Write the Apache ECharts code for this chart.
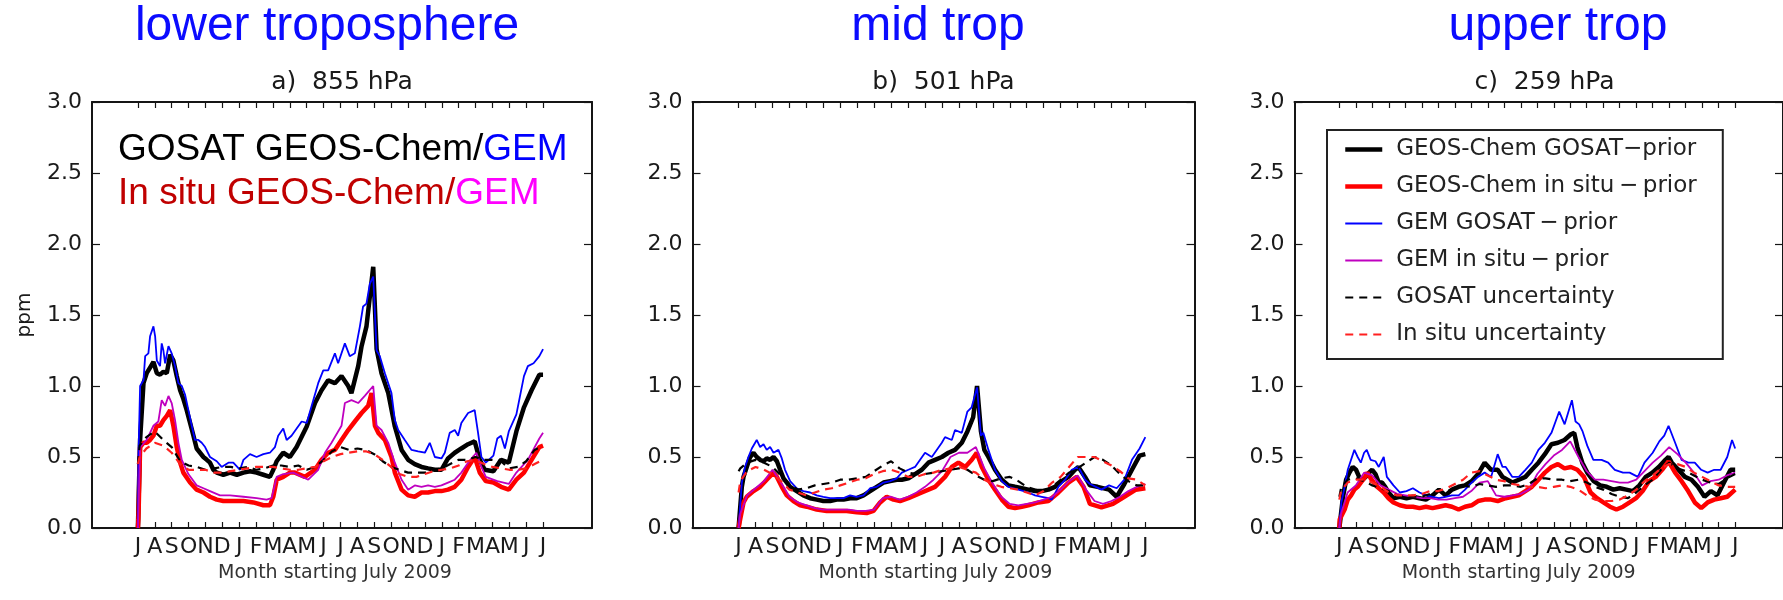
<!DOCTYPE html>
<html>
<head>
<meta charset="utf-8">
<title>GOSAT / in situ CO2 flux differences</title>
<script src="https://cdn.jsdelivr.net/npm/echarts@6/dist/echarts.min.js"></script>
<style>
  html, body { margin: 0; padding: 0; background: #fff; }
  #chart { width: 1783px; height: 600px; }
</style>
</head>
<body>
<div id="chart"></div>
<script>
// months since July 2009, x of the half-month sampled series
var months = [0, 0.1, 0.5, 1, 1.5, 2, 2.5, 3, 3.5, 4, 4.5, 5, 5.5, 6, 6.5, 7, 7.5, 8, 8.5, 9, 9.5, 10,
  10.5, 11, 11.5, 12, 12.5, 13, 13.5, 14, 14.5, 15, 15.5, 16, 16.5, 17, 17.5, 18, 18.5, 19, 19.5, 20,
  20.5, 21, 21.5, 22, 22.5, 23, 23.5, 24];

var monthTicks = [0, 1, 2, 3, 4, 5, 6, 7, 8, 9, 10, 11, 12, 13, 14, 15, 16, 17, 18, 19, 20, 21, 22, 23, 24];
var monthLetters = ['J', 'A', 'S', 'O', 'N', 'D', 'J', 'F', 'M', 'A', 'M', 'J',
  'J', 'A', 'S', 'O', 'N', 'D', 'J', 'F', 'M', 'A', 'M', 'J', 'J'];

var seriesNames = ['GEOS-Chem GOSAT\u2212prior', 'GEOS-Chem in situ\u2009\u2212\u2009prior', 'GEM GOSAT\u2009\u2212\u2009prior',
  'GEM in situ\u2009\u2212\u2009prior', 'GOSAT uncertainty', 'In situ uncertainty'];

// a) 855 hPa  -- solid lines read as [month, ppm], the rest on the half-month grid
var a855GcGosat = [[0, 0], [0.13, 0.62], [0.33, 1.02], [0.52, 1.09], [0.72, 1.13], [0.92, 1.17], [1.12, 1.09], [1.31, 1.08], [1.51, 1.1], [1.71, 1.09], [1.91, 1.22], [2.1, 1.18], [2.3, 1.07], [2.5, 0.97], [2.69, 0.91], [2.89, 0.83], [3.09, 0.74], [3.29, 0.65], [3.48, 0.56], [3.68, 0.53], [3.88, 0.5], [4.08, 0.48], [4.27, 0.46], [4.47, 0.41], [4.67, 0.39], [5.06, 0.375], [5.46, 0.39], [5.86, 0.375], [6.25, 0.39], [6.64, 0.4], [7.03, 0.39], [7.43, 0.375], [7.82, 0.36], [8.02, 0.41], [8.22, 0.47], [8.41, 0.5], [8.61, 0.53], [9.0, 0.5], [9.4, 0.57], [10.0, 0.715], [10.49, 0.88], [10.88, 0.97], [11.27, 1.04], [11.67, 1.02], [12.06, 1.07], [12.46, 1.0], [12.65, 0.95], [13.05, 1.14], [13.25, 1.28], [13.54, 1.42], [13.74, 1.63], [13.94, 1.84], [14.14, 1.26], [14.43, 1.09], [14.83, 0.95], [15.22, 0.715], [15.62, 0.55], [16.01, 0.48], [16.4, 0.45], [16.8, 0.43], [17.19, 0.42], [17.59, 0.41], [17.98, 0.41], [18.37, 0.49], [18.77, 0.53], [19.16, 0.56], [19.56, 0.59], [19.95, 0.61], [20.25, 0.48], [20.54, 0.41], [21.06, 0.4], [21.51, 0.48], [21.97, 0.46], [22.42, 0.68], [22.87, 0.85], [23.32, 0.97], [23.78, 1.08], [24.0, 1.08]];
var a855GcInsitu = [[0, 0], [0.03, 0.06], [0.13, 0.57], [0.33, 0.6], [0.52, 0.6], [0.72, 0.62], [0.92, 0.65], [1.12, 0.72], [1.31, 0.72], [1.51, 0.76], [1.71, 0.79], [1.91, 0.83], [2.1, 0.72], [2.3, 0.57], [2.5, 0.46], [2.69, 0.39], [3.09, 0.32], [3.48, 0.27], [3.88, 0.25], [4.27, 0.22], [4.67, 0.2], [5.06, 0.19], [5.65, 0.19], [6.25, 0.19], [6.84, 0.18], [7.43, 0.16], [7.82, 0.16], [8.02, 0.22], [8.22, 0.34], [8.61, 0.36], [9.0, 0.39], [9.3, 0.39], [9.89, 0.36], [10.49, 0.41], [10.88, 0.48], [11.27, 0.53], [11.67, 0.55], [12.06, 0.62], [12.46, 0.69], [12.85, 0.75], [13.25, 0.81], [13.64, 0.86], [13.84, 0.95], [14.04, 0.72], [14.24, 0.67], [14.63, 0.62], [15.02, 0.5], [15.22, 0.39], [15.62, 0.27], [16.01, 0.23], [16.4, 0.22], [16.8, 0.25], [17.19, 0.25], [17.59, 0.26], [17.98, 0.26], [18.37, 0.27], [18.77, 0.29], [19.16, 0.34], [19.56, 0.43], [19.95, 0.5], [20.25, 0.39], [20.61, 0.33], [21.06, 0.32], [21.51, 0.29], [21.97, 0.27], [22.42, 0.34], [22.87, 0.39], [23.32, 0.48], [23.78, 0.57], [24.0, 0.58]];
var a855GemGosat = [[0, 0], [0.03, 0.5], [0.13, 1.0], [0.33, 1.04], [0.43, 1.21], [0.62, 1.23], [0.72, 1.35], [0.92, 1.42], [1.02, 1.35], [1.12, 1.18], [1.31, 1.14], [1.41, 1.3], [1.51, 1.25], [1.61, 1.16], [1.81, 1.28], [2.0, 1.23], [2.2, 1.14], [2.4, 1.02], [2.6, 1.0], [2.79, 0.94], [2.99, 0.83], [3.19, 0.72], [3.38, 0.62], [3.58, 0.62], [3.78, 0.6], [3.98, 0.57], [4.27, 0.5], [4.67, 0.47], [4.96, 0.43], [5.36, 0.46], [5.65, 0.46], [6.05, 0.41], [6.25, 0.48], [6.64, 0.52], [7.03, 0.5], [7.43, 0.52], [7.82, 0.53], [8.12, 0.57], [8.31, 0.65], [8.61, 0.7], [8.81, 0.62], [9.1, 0.65], [9.7, 0.75], [10.0, 0.74], [10.29, 0.86], [10.68, 1.02], [10.98, 1.11], [11.27, 1.11], [11.67, 1.23], [11.86, 1.16], [12.26, 1.3], [12.55, 1.21], [12.85, 1.23], [13.15, 1.42], [13.34, 1.56], [13.54, 1.58], [13.74, 1.72], [13.94, 1.77], [14.14, 1.25], [14.33, 1.21], [14.63, 1.09], [15.02, 0.95], [15.22, 0.76], [15.42, 0.69], [15.81, 0.62], [16.21, 0.55], [16.6, 0.54], [17.0, 0.53], [17.29, 0.6], [17.59, 0.5], [17.98, 0.49], [18.18, 0.53], [18.47, 0.67], [18.77, 0.69], [18.97, 0.65], [19.16, 0.74], [19.56, 0.81], [19.95, 0.83], [20.15, 0.67], [20.35, 0.5], [20.61, 0.46], [21.06, 0.51], [21.29, 0.63], [21.51, 0.65], [21.74, 0.56], [21.97, 0.68], [22.42, 0.8], [22.87, 1.07], [23.1, 1.14], [23.44, 1.16], [23.78, 1.21], [24.0, 1.26]];
var a855GemInsitu = [[0, 0], [0.13, 0.57], [0.52, 0.62], [0.92, 0.72], [1.21, 0.75], [1.41, 0.9], [1.61, 0.86], [1.81, 0.93], [2.0, 0.88], [2.2, 0.76], [2.4, 0.6], [2.6, 0.48], [2.99, 0.38], [3.48, 0.3], [3.88, 0.28], [4.27, 0.26], [4.86, 0.23], [5.46, 0.23], [6.25, 0.22], [7.03, 0.21], [7.62, 0.2], [7.92, 0.21], [8.22, 0.36], [8.61, 0.38], [9.2, 0.39], [10.09, 0.34], [10.68, 0.41], [11.08, 0.53], [11.47, 0.6], [12.06, 0.72], [12.26, 0.88], [12.65, 0.9], [13.05, 0.88], [13.44, 0.93], [13.94, 1.0], [14.14, 0.72], [14.43, 0.69], [14.83, 0.6], [15.22, 0.46], [15.62, 0.34], [16.01, 0.27], [16.4, 0.3], [16.8, 0.29], [17.19, 0.3], [17.59, 0.29], [17.98, 0.3], [18.37, 0.32], [18.77, 0.34], [19.16, 0.39], [19.56, 0.46], [20.05, 0.53], [20.35, 0.43], [20.61, 0.36], [21.29, 0.33], [21.97, 0.31], [22.42, 0.39], [23.1, 0.48], [23.78, 0.63], [24.0, 0.67]];
var a855GosatUnc = [0.45, 0.58, 0.64, 0.68, 0.62, 0.57, 0.47, 0.44, 0.43, 0.41, 0.42, 0.43, 0.43, 0.42, 0.43, 0.41, 0.42, 0.44, 0.44, 0.43, 0.44, 0.41, 0.43, 0.48, 0.54, 0.57, 0.55, 0.56, 0.55, 0.52, 0.47, 0.43, 0.41, 0.39, 0.39, 0.39, 0.41, 0.42, 0.45, 0.48, 0.48, 0.5, 0.48, 0.48, 0.47, 0.42, 0.43, 0.47, 0.55, 0.58];
var a855InsituUnc = [0.45, 0.5, 0.56, 0.6, 0.58, 0.53, 0.45, 0.41, 0.41, 0.41, 0.39, 0.39, 0.4, 0.41, 0.42, 0.43, 0.43, 0.43, 0.42, 0.41, 0.41, 0.42, 0.43, 0.47, 0.5, 0.52, 0.53, 0.54, 0.54, 0.52, 0.48, 0.43, 0.38, 0.36, 0.36, 0.38, 0.4, 0.41, 0.42, 0.44, 0.47, 0.48, 0.45, 0.43, 0.42, 0.41, 0.41, 0.42, 0.45, 0.48];

// b) 501 hPa
var b501GcGosat = [[0, 0], [0.19, 0.29], [0.29, 0.36], [0.48, 0.43], [0.68, 0.5], [0.88, 0.53], [1.07, 0.5], [1.27, 0.48], [1.47, 0.47], [1.66, 0.49], [1.86, 0.48], [2.06, 0.5], [2.26, 0.47], [2.45, 0.41], [2.65, 0.35], [3.04, 0.29], [3.43, 0.26], [3.82, 0.23], [4.22, 0.21], [4.61, 0.2], [5.0, 0.19], [5.4, 0.19], [5.79, 0.2], [6.19, 0.2], [6.58, 0.21], [6.97, 0.21], [7.37, 0.23], [7.76, 0.26], [8.15, 0.29], [8.55, 0.32], [8.94, 0.33], [9.33, 0.34], [9.63, 0.34], [10.02, 0.35], [10.41, 0.38], [10.81, 0.41], [11.2, 0.46], [11.59, 0.48], [11.99, 0.5], [12.38, 0.53], [12.77, 0.55], [13.17, 0.6], [13.5, 0.68], [13.84, 0.78], [14.07, 1.0], [14.3, 0.68], [14.5, 0.55], [14.74, 0.5], [15.13, 0.41], [15.53, 0.34], [15.92, 0.3], [16.31, 0.29], [16.71, 0.28], [17.1, 0.27], [17.49, 0.26], [17.89, 0.26], [18.28, 0.27], [18.67, 0.29], [19.07, 0.33], [19.46, 0.36], [19.85, 0.41], [20.05, 0.43], [20.44, 0.36], [20.73, 0.3], [21.18, 0.29], [21.86, 0.27], [22.31, 0.22], [22.76, 0.31], [23.21, 0.41], [23.66, 0.51], [24.0, 0.52]];
var b501GcInsitu = [[0, 0], [0.09, 0.06], [0.29, 0.18], [0.48, 0.22], [0.88, 0.26], [1.27, 0.29], [1.66, 0.34], [2.06, 0.39], [2.26, 0.36], [2.55, 0.29], [2.84, 0.23], [3.23, 0.19], [3.63, 0.16], [4.02, 0.15], [4.61, 0.13], [5.2, 0.12], [5.79, 0.12], [6.38, 0.12], [6.97, 0.11], [7.56, 0.105], [7.96, 0.12], [8.35, 0.18], [8.74, 0.22], [9.14, 0.2], [9.53, 0.19], [10.02, 0.21], [10.81, 0.25], [11.59, 0.29], [12.18, 0.36], [12.58, 0.43], [12.97, 0.46], [13.37, 0.43], [13.76, 0.48], [14.05, 0.53], [14.35, 0.43], [14.74, 0.34], [15.13, 0.27], [15.53, 0.2], [15.92, 0.15], [16.31, 0.14], [16.71, 0.15], [17.1, 0.16], [17.69, 0.18], [18.28, 0.19], [18.87, 0.25], [19.46, 0.32], [19.95, 0.36], [20.35, 0.29], [20.73, 0.17], [21.41, 0.145], [22.09, 0.17], [22.76, 0.22], [23.44, 0.27], [24.0, 0.28]];
var b501GemGosat = [[0, 0], [0.19, 0.32], [0.38, 0.43], [0.58, 0.5], [0.78, 0.56], [1.07, 0.62], [1.27, 0.57], [1.47, 0.59], [1.66, 0.55], [1.86, 0.57], [2.06, 0.53], [2.35, 0.55], [2.55, 0.49], [2.74, 0.41], [3.04, 0.33], [3.43, 0.28], [3.82, 0.26], [4.22, 0.25], [4.61, 0.23], [5.0, 0.22], [5.4, 0.21], [5.79, 0.21], [6.19, 0.21], [6.58, 0.23], [6.97, 0.22], [7.37, 0.23], [7.76, 0.28], [8.15, 0.29], [8.55, 0.32], [8.94, 0.33], [9.33, 0.35], [9.63, 0.39], [10.02, 0.41], [10.41, 0.43], [11.0, 0.53], [11.4, 0.5], [11.99, 0.6], [12.18, 0.64], [12.58, 0.62], [12.77, 0.69], [13.17, 0.67], [13.5, 0.82], [13.75, 0.85], [14.07, 0.99], [14.3, 0.65], [14.44, 0.67], [14.74, 0.55], [15.13, 0.41], [15.53, 0.33], [15.92, 0.29], [16.51, 0.27], [17.1, 0.25], [17.49, 0.23], [17.89, 0.22], [18.28, 0.21], [18.48, 0.2], [18.87, 0.29], [19.27, 0.34], [19.66, 0.41], [20.05, 0.43], [20.44, 0.34], [20.73, 0.31], [21.41, 0.27], [21.86, 0.3], [22.31, 0.28], [22.76, 0.34], [23.21, 0.48], [23.66, 0.56], [24.0, 0.64]];
var b501GemInsitu = [0, 0.1, 0.23, 0.28, 0.33, 0.41, 0.32, 0.22, 0.18, 0.16, 0.14, 0.13, 0.13, 0.13, 0.13, 0.12, 0.12, 0.13, 0.21, 0.22, 0.2, 0.22, 0.25, 0.29, 0.34, 0.4, 0.5, 0.53, 0.53, 0.57, 0.42, 0.31, 0.22, 0.17, 0.16, 0.17, 0.18, 0.2, 0.22, 0.27, 0.33, 0.37, 0.27, 0.19, 0.17, 0.19, 0.22, 0.26, 0.29, 0.31];
var b501GosatUnc = [0.4, 0.42, 0.46, 0.48, 0.46, 0.43, 0.37, 0.31, 0.27, 0.28, 0.3, 0.31, 0.32, 0.34, 0.34, 0.35, 0.36, 0.4, 0.44, 0.47, 0.42, 0.39, 0.38, 0.38, 0.39, 0.4, 0.41, 0.42, 0.41, 0.37, 0.34, 0.33, 0.35, 0.36, 0.33, 0.29, 0.27, 0.26, 0.29, 0.34, 0.39, 0.42, 0.46, 0.5, 0.48, 0.44, 0.38, 0.33, 0.3, 0.3];
var b501InsituUnc = [0.25, 0.33, 0.4, 0.43, 0.41, 0.38, 0.33, 0.27, 0.25, 0.23, 0.25, 0.27, 0.28, 0.3, 0.32, 0.34, 0.35, 0.38, 0.4, 0.41, 0.39, 0.36, 0.36, 0.38, 0.39, 0.41, 0.42, 0.43, 0.41, 0.39, 0.34, 0.31, 0.29, 0.28, 0.27, 0.25, 0.23, 0.26, 0.32, 0.36, 0.43, 0.5, 0.5, 0.5, 0.47, 0.44, 0.4, 0.35, 0.34, 0.3];

// c) 259 hPa
var c259GcGosat = [[0, 0], [0.22, 0.22], [0.41, 0.34], [0.61, 0.39], [0.81, 0.43], [1.01, 0.41], [1.2, 0.36], [1.4, 0.34], [1.6, 0.36], [1.8, 0.39], [1.99, 0.41], [2.19, 0.38], [2.39, 0.32], [2.59, 0.32], [2.78, 0.29], [2.98, 0.25], [3.28, 0.21], [3.67, 0.22], [4.07, 0.21], [4.46, 0.22], [4.86, 0.21], [5.25, 0.2], [5.65, 0.23], [6.04, 0.27], [6.44, 0.23], [6.83, 0.27], [7.23, 0.29], [7.62, 0.3], [8.02, 0.33], [8.41, 0.38], [8.81, 0.46], [9.2, 0.41], [9.6, 0.41], [9.89, 0.36], [10.49, 0.32], [10.88, 0.34], [11.28, 0.36], [11.67, 0.41], [12.07, 0.46], [12.46, 0.52], [12.86, 0.59], [13.25, 0.6], [13.65, 0.62], [14.04, 0.66], [14.24, 0.67], [14.43, 0.57], [14.73, 0.46], [15.03, 0.39], [15.42, 0.33], [15.82, 0.3], [16.21, 0.29], [16.61, 0.27], [17.0, 0.28], [17.4, 0.27], [17.8, 0.26], [18.19, 0.3], [18.58, 0.36], [18.98, 0.39], [19.37, 0.43], [19.77, 0.48], [19.96, 0.5], [20.16, 0.46], [20.56, 0.41], [20.95, 0.36], [21.35, 0.34], [21.74, 0.29], [22.14, 0.22], [22.53, 0.26], [22.93, 0.23], [23.32, 0.32], [23.72, 0.41], [24.0, 0.41]];
var c259GcInsitu = [[0, 0], [0.02, 0.06], [0.32, 0.13], [0.51, 0.2], [0.71, 0.23], [0.91, 0.27], [1.11, 0.29], [1.3, 0.32], [1.5, 0.35], [1.7, 0.39], [1.9, 0.35], [2.09, 0.32], [2.29, 0.29], [2.49, 0.27], [2.69, 0.25], [2.98, 0.21], [3.28, 0.18], [3.67, 0.16], [4.07, 0.15], [4.46, 0.15], [4.86, 0.14], [5.25, 0.15], [5.65, 0.14], [6.04, 0.15], [6.44, 0.16], [6.83, 0.15], [7.23, 0.13], [7.62, 0.15], [8.02, 0.16], [8.41, 0.19], [8.81, 0.2], [9.2, 0.2], [9.6, 0.19], [10.09, 0.21], [10.49, 0.22], [10.88, 0.23], [11.28, 0.26], [11.67, 0.29], [12.07, 0.34], [12.46, 0.39], [12.86, 0.43], [13.25, 0.45], [13.65, 0.42], [14.04, 0.43], [14.43, 0.41], [14.83, 0.36], [15.23, 0.25], [15.62, 0.21], [16.01, 0.18], [16.41, 0.15], [16.8, 0.13], [17.2, 0.15], [17.6, 0.18], [17.99, 0.21], [18.39, 0.26], [18.78, 0.33], [19.18, 0.36], [19.57, 0.41], [19.96, 0.47], [20.36, 0.39], [20.75, 0.33], [21.15, 0.26], [21.55, 0.18], [21.94, 0.14], [22.33, 0.18], [22.73, 0.2], [23.12, 0.21], [23.52, 0.22], [24.0, 0.27]];
var c259GemGosat = [[0, 0], [0.12, 0.18], [0.32, 0.29], [0.51, 0.41], [0.71, 0.48], [0.91, 0.55], [1.11, 0.5], [1.3, 0.46], [1.5, 0.53], [1.66, 0.55], [1.9, 0.48], [2.19, 0.47], [2.39, 0.43], [2.69, 0.5], [2.88, 0.36], [3.28, 0.3], [3.67, 0.25], [4.07, 0.26], [4.46, 0.28], [4.86, 0.25], [5.25, 0.23], [5.65, 0.22], [6.04, 0.21], [6.44, 0.22], [6.83, 0.23], [7.23, 0.23], [7.62, 0.27], [8.02, 0.32], [8.41, 0.36], [8.81, 0.39], [9.2, 0.36], [9.6, 0.52], [9.89, 0.43], [10.09, 0.43], [10.49, 0.36], [10.88, 0.36], [11.28, 0.41], [11.67, 0.46], [12.07, 0.55], [12.46, 0.6], [12.86, 0.67], [13.33, 0.82], [13.66, 0.73], [14.1, 0.9], [14.32, 0.75], [14.54, 0.73], [14.75, 0.68], [15.03, 0.58], [15.4, 0.48], [15.9, 0.48], [16.3, 0.46], [16.7, 0.41], [17.2, 0.39], [17.6, 0.39], [18.1, 0.36], [18.5, 0.46], [19.0, 0.53], [19.4, 0.61], [19.7, 0.65], [19.96, 0.72], [20.36, 0.6], [20.75, 0.48], [21.15, 0.46], [21.55, 0.46], [21.94, 0.41], [22.33, 0.39], [22.73, 0.41], [23.12, 0.41], [23.52, 0.5], [23.81, 0.62], [24.0, 0.56]];
var c259GemInsitu = [0, 0.1, 0.25, 0.3, 0.39, 0.37, 0.3, 0.27, 0.24, 0.23, 0.22, 0.21, 0.21, 0.2, 0.2, 0.21, 0.22, 0.26, 0.32, 0.33, 0.23, 0.22, 0.23, 0.24, 0.27, 0.38, 0.45, 0.51, 0.55, 0.61, 0.5, 0.4, 0.34, 0.34, 0.33, 0.32, 0.32, 0.34, 0.4, 0.46, 0.51, 0.57, 0.52, 0.46, 0.39, 0.3, 0.33, 0.34, 0.37, 0.39];
var c259GosatUnc = [0.22, 0.28, 0.34, 0.35, 0.33, 0.3, 0.28, 0.26, 0.23, 0.22, 0.22, 0.22, 0.24, 0.27, 0.26, 0.28, 0.3, 0.29, 0.31, 0.3, 0.29, 0.3, 0.3, 0.29, 0.31, 0.35, 0.35, 0.34, 0.34, 0.33, 0.34, 0.32, 0.29, 0.27, 0.24, 0.22, 0.21, 0.25, 0.3, 0.34, 0.41, 0.46, 0.42, 0.4, 0.37, 0.34, 0.32, 0.31, 0.35, 0.38];
var c259InsituUnc = [0.2, 0.26, 0.32, 0.34, 0.34, 0.32, 0.29, 0.25, 0.23, 0.23, 0.23, 0.24, 0.26, 0.26, 0.28, 0.31, 0.34, 0.39, 0.4, 0.37, 0.34, 0.33, 0.31, 0.3, 0.29, 0.29, 0.28, 0.29, 0.3, 0.29, 0.27, 0.23, 0.2, 0.19, 0.19, 0.2, 0.23, 0.27, 0.33, 0.37, 0.42, 0.45, 0.45, 0.43, 0.39, 0.36, 0.33, 0.3, 0.29, 0.29];

var X_MIN = -2.72, X_MAX = 26.9;
var AXIS_COLOR = '#151515';
var TEXT_FONT = 'DejaVu Sans';

var panels = [
  { title: 'a)  855 hPa', left: 92, width: 500, yName: 'ppm', namePad: 14,
    values: [a855GcGosat, a855GcInsitu, a855GemGosat, a855GemInsitu, a855GosatUnc, a855InsituUnc] },
  { title: 'b)  501 hPa', left: 692.5, width: 502, yName: '', namePad: 16,
    values: [b501GcGosat, b501GcInsitu, b501GemGosat, b501GemInsitu, b501GosatUnc, b501InsituUnc] },
  { title: 'c)  259 hPa', left: 1294.5, width: 500, yName: '', namePad: 40,
    values: [c259GcGosat, c259GcInsitu, c259GemGosat, c259GemInsitu, c259GosatUnc, c259InsituUnc] }
];

// one look per series, same order as seriesNames
var lineLooks = [
  { color: '#000000', width: 4.5, type: 'solid' },
  { color: '#ff0000', width: 4.5, type: 'solid' },
  { color: '#0000ff', width: 1.8, type: 'solid' },
  { color: '#bf00bf', width: 1.8, type: 'solid' },
  { color: '#000000', width: 2.2, type: [8, 6] },
  { color: '#ff2020', width: 2.2, type: [8, 6] }
];

// series either come as [month, ppm] pairs or as values on the months grid
function toPoints(vals) {
  if (Array.isArray(vals[0])) return vals;
  return months.map(function (m, j) { return [m, vals[j]]; });
}

var chart = echarts.init(document.getElementById('chart'));

var grids = [], xAxes = [], yAxes = [], series = [];
var titles = [
  { text: 'lower troposphere', left: 327, top: 3 },
  { text: 'mid trop', left: 938, top: 3 },
  { text: 'upper trop', left: 1558, top: 3 }
].map(function (t) {
  return {
    text: t.text, left: t.left, top: t.top, textAlign: 'center', padding: 0,
    textStyle: { fontFamily: 'Liberation Sans', fontSize: 48, fontWeight: 'normal', color: '#0b0bff' }
  };
});

function lineAxisStyle() {
  return { show: true, onZero: false, lineStyle: { color: AXIS_COLOR, width: 2 } };
}

panels.forEach(function (p, i) {
  grids.push({ left: p.left, top: 102, width: p.width, height: 426, containLabel: false });

  titles.push({
    text: p.title, left: p.left + p.width / 2, top: 70, textAlign: 'center', padding: 0,
    textStyle: { fontFamily: TEXT_FONT, fontSize: 25, fontWeight: 'normal', color: '#1a1a1a' }
  });

  xAxes.push({
    type: 'value', gridIndex: i, position: 'bottom', min: X_MIN, max: X_MAX,
    axisLine: lineAxisStyle(),
    axisTick: { show: true, inside: true, length: 6, customValues: monthTicks,
      lineStyle: { color: AXIS_COLOR, width: 1.2 } },
    axisLabel: { show: true, customValues: monthTicks, margin: 8, color: '#1a1a1a',
      fontFamily: TEXT_FONT, fontSize: 22,
      formatter: function (v) { return monthLetters[Math.round(v)]; } },
    splitLine: { show: false },
    name: 'Month starting July 2009', nameLocation: 'middle', nameGap: 36,
    nameTextStyle: { fontFamily: TEXT_FONT, fontSize: 19, color: '#333', padding: [0, p.namePad, 0, 0] }
  });
  xAxes.push({
    type: 'value', gridIndex: i, position: 'top', min: X_MIN, max: X_MAX,
    axisLine: lineAxisStyle(),
    axisTick: { show: true, inside: true, length: 6, customValues: monthTicks,
      lineStyle: { color: AXIS_COLOR, width: 1.2 } },
    axisLabel: { show: false },
    splitLine: { show: false }
  });

  yAxes.push({
    type: 'value', gridIndex: i, position: 'left', min: 0, max: 3, interval: 0.5,
    axisLine: lineAxisStyle(),
    axisTick: { show: true, inside: true, length: 8, lineStyle: { color: AXIS_COLOR, width: 1.2 } },
    axisLabel: { margin: 10, color: '#1a1a1a', fontFamily: TEXT_FONT, fontSize: 22,
      formatter: function (v) { return v.toFixed(1); } },
    splitLine: { show: false },
    name: p.yName, nameLocation: 'middle', nameGap: 57, nameRotate: 90,
    nameTextStyle: { fontFamily: TEXT_FONT, fontSize: 20, color: '#1a1a1a' }
  });
  yAxes.push({
    type: 'value', gridIndex: i, position: 'right', min: 0, max: 3, interval: 0.5,
    axisLine: lineAxisStyle(),
    axisTick: { show: true, inside: true, length: 8, lineStyle: { color: AXIS_COLOR, width: 1.2 } },
    axisLabel: { show: false },
    splitLine: { show: false }
  });

  p.values.forEach(function (vals, k) {
    var look = lineLooks[k];
    series.push({
      type: 'line', name: seriesNames[k], xAxisIndex: 2 * i, yAxisIndex: 2 * i,
      data: toPoints(vals),
      symbol: 'none', showSymbol: false, silent: true, animation: false,
      lineStyle: { color: look.color, width: look.width, type: look.type },
      itemStyle: { color: look.color },
      z: 2 + k * 0.1
    });
  });
});

// annotation inside panel a
var richBase = { fontFamily: 'Liberation Sans', fontSize: 37, fontWeight: 'normal' };
titles.push({
  text: '{k|GOSAT GEOS-Chem/}{b|GEM}', left: 118, top: 131, padding: 0,
  textStyle: { fontWeight: 'normal', rich: {
    k: Object.assign({ color: '#000000' }, richBase),
    b: Object.assign({ color: '#0000ff' }, richBase)
  } }
});
titles.push({
  text: '{r|In situ GEOS-Chem/}{m|GEM}', left: 118, top: 175, padding: 0,
  textStyle: { fontWeight: 'normal', rich: {
    r: Object.assign({ color: '#c00000' }, richBase),
    m: Object.assign({ color: '#ff00ff' }, richBase)
  } }
});

chart.setOption({
  backgroundColor: '#ffffff',
  animation: false,
  title: titles,
  grid: grids,
  xAxis: xAxes,
  yAxis: yAxes,
  legend: {
    orient: 'vertical', left: 1327, top: 130,
    itemWidth: 37, itemHeight: 24, itemGap: 14,
    padding: [8, 26, 13, 16],
    borderColor: '#222', borderWidth: 2, borderRadius: 0,
    backgroundColor: '#ffffff',
    selectedMode: false,
    // hide the marker dot, keep only the line sample at the series width
    itemStyle: { color: 'rgba(0,0,0,0)', borderColor: 'rgba(0,0,0,0)', borderWidth: 0 },
    lineStyle: { width: 'inherit' },
    textStyle: { fontFamily: TEXT_FONT, fontSize: 23, color: '#222', padding: [0, 0, 0, 9] },
    data: seriesNames
  },
  series: series
});
</script>
</body>
</html>
